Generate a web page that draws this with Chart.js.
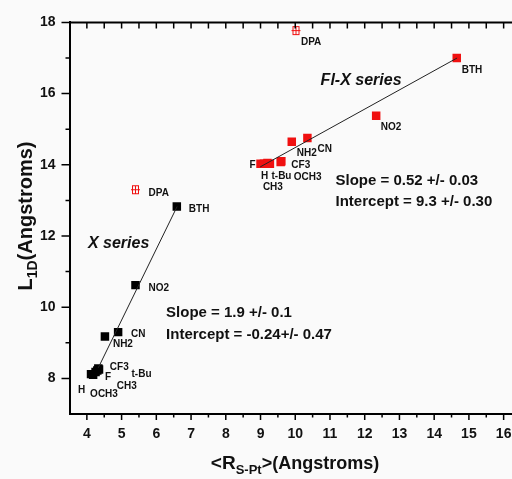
<!DOCTYPE html>
<html>
<head>
<meta charset="utf-8">
<script src="https://cdn.jsdelivr.net/npm/chart.js@4.4.0/dist/chart.umd.min.js"></script>
<style>
  html, body { margin: 0; padding: 0; background: #fafafa; overflow: hidden; }
  #wrap { width: 512px; height: 479px; overflow: hidden; }
  canvas { display: block; }
</style>
</head>
<body>
<div id="wrap"><canvas id="chart" width="540" height="479"></canvas></div>
<script>
// Substituent order shared by both series
const fixNames = ['H', 'F', 'CH3', 't-Bu', 'OCH3', 'CF3', 'NH2', 'CN', 'NO2', 'BTH'];
const xNames = ['H', 'F', 'CH3', 't-Bu', 'OCH3', 'CF3', 'NH2', 'CN', 'NO2', 'BTH'];

// Fl-X series: <R S-Pt> and L1D (Angstroms)
const fixR = [9.1, 9.0, 9.27, 9.2, 9.58, 9.6, 9.9, 10.35, 12.33, 14.65];
const fixL = [14.03, 14.03, 14.03, 14.05, 14.08, 14.1, 14.65, 14.75, 15.38, 17.0];

// X series
const xR = [4.12, 4.25, 4.3, 4.35, 4.18, 4.33, 4.52, 4.9, 5.4, 6.59];
const xL = [8.12, 8.18, 8.22, 8.25, 8.1, 8.28, 9.18, 9.3, 10.62, 12.83];

// DPA points, left out of both fits
const dpaNames = ['DPA', 'DPA'];
const dpaR = [10.02, 5.4];
const dpaL = [17.77, 13.3];

// fitted lines (end points)
const fixFitR = [8.99, 14.66];
const fixFitL = [13.94, 17.0];
const xFitR = [4.33, 6.6];
const xFitL = [8.3, 12.83];

const xTicks = [4, 5, 6, 7, 8, 9, 10, 11, 12, 13, 14, 15, 16];
const yTicks = [8, 10, 12, 14, 16, 18];

// label placement next to each marker, pixels [dx, dy]
const fixLabelOffsets = [[-3, 13], [-11, 2], [-7, 24], [4, 13.5], [13, 15], [10, 4], [5, 12], [10, 11], [4.5, 12], [5, 12]];
const xLabelOffsets = [[-13, 16], [9.5, 5], [19.5, 16], [32.5, 5], [-3, 19.5], [11.5, -1], [8, 8], [13, 2], [13, 3], [12, 3]];
const dpaLabelOffsets = [[5, 11.5], [13, 3.5]];

const notes = [
  { text: 'Fl-X series', x: 10.73, y: 16.36, font: 'italic bold 16px "Liberation Sans"' },
  { text: 'X series', x: 4.03, y: 11.8, font: 'italic bold 16px "Liberation Sans"' },
  { text: 'Slope = 0.52 +/- 0.03', x: 11.16, y: 13.56, font: 'bold 15px "Liberation Sans"' },
  { text: 'Intercept = 9.3 +/- 0.30', x: 11.16, y: 12.97, font: 'bold 15px "Liberation Sans"' },
  { text: 'Slope = 1.9 +/- 0.1', x: 6.28, y: 9.83, font: 'bold 15px "Liberation Sans"' },
  { text: 'Intercept = -0.24+/- 0.47', x: 6.28, y: 9.22, font: 'bold 15px "Liberation Sans"' }
];

const RED = '#f01010';
const FONT = '"Liberation Sans", Arial, sans-serif';

function pts(xs, ys) {
  return xs.map((v, i) => ({ x: v, y: ys[i] }));
}

// open red square with a cross, used for the DPA points
function dpaGlyph() {
  const c = document.createElement('canvas');
  c.width = 11; c.height = 11;
  const g = c.getContext('2d');
  g.strokeStyle = RED;
  g.lineWidth = 1;
  g.strokeRect(2.5, 1.5, 6, 8);
  g.beginPath();
  g.moveTo(1, 5.5); g.lineTo(10, 5.5);
  g.moveTo(5.5, 1.5); g.lineTo(5.5, 9.5);
  g.stroke();
  return c;
}

const framePlugin = {
  id: 'frame',
  beforeDraw(chart) {
    const ctx = chart.ctx;
    ctx.save();
    ctx.fillStyle = '#fafafa';
    ctx.fillRect(0, 0, chart.width, chart.height);
    ctx.restore();
  },
  afterDraw(chart) {
    const { ctx, chartArea: a, scales: { x, y } } = chart;
    ctx.save();
    ctx.strokeStyle = '#000';
    ctx.lineWidth = 2;
    ctx.beginPath();
    ctx.moveTo(a.left, a.top);
    ctx.lineTo(a.right, a.top);
    ctx.lineTo(a.right, a.bottom);
    ctx.stroke();

    ctx.lineWidth = 1.5;
    ctx.beginPath();
    for (let v = x.min + 0.5; v < x.max; v += 0.5) {
      const px = x.getPixelForValue(v);
      const major = Math.abs(v - Math.round(v)) < 1e-6;
      ctx.moveTo(px, a.bottom);
      ctx.lineTo(px, a.bottom + (major ? 6 : 3.5));
      ctx.moveTo(px, a.top);
      ctx.lineTo(px, a.top + 6);
    }
    for (let v = y.min + 1; v <= y.max; v += 1) {
      const py = y.getPixelForValue(v);
      const major = v % 2 === 0;
      ctx.moveTo(a.left, py);
      ctx.lineTo(a.left - (major ? 8 : 4), py);
    }
    ctx.stroke();
    ctx.restore();
  }
};

const labelPlugin = {
  id: 'pointLabels',
  afterDatasetsDraw(chart) {
    const ctx = chart.ctx;
    ctx.save();
    ctx.fillStyle = '#111';
    ctx.font = 'bold 10px ' + FONT;
    ctx.textAlign = 'left';
    ctx.textBaseline = 'middle';
    chart.data.datasets.forEach((ds, di) => {
      if (!ds.names) return;
      chart.getDatasetMeta(di).data.forEach((el, i) => {
        const [dx, dy] = ds.offsets[i];
        ctx.fillText(ds.names[i], el.x + dx, el.y + dy);
      });
    });

    const { x, y } = chart.scales;
    notes.forEach(n => {
      ctx.font = n.font;
      ctx.fillText(n.text, x.getPixelForValue(n.x), y.getPixelForValue(n.y));
    });
    ctx.restore();
  }
};

// axis titles with subscripts
function drawParts(ctx, parts, cx, base) {
  let w = 0;
  parts.forEach(p => { ctx.font = p.font; w += ctx.measureText(p.t).width; });
  let px = cx - w / 2;
  parts.forEach(p => {
    ctx.font = p.font;
    ctx.fillText(p.t, px, base + (p.dy || 0));
    px += ctx.measureText(p.t).width;
  });
}

const titlePlugin = {
  id: 'axisTitles',
  afterDraw(chart) {
    const ctx = chart.ctx;
    ctx.save();
    ctx.fillStyle = '#111';
    ctx.textAlign = 'left';
    ctx.textBaseline = 'alphabetic';
    drawParts(ctx, [
      { t: '<R', font: 'bold 19px ' + FONT },
      { t: 'S-Pt', font: 'bold 13px ' + FONT, dy: 5 },
      { t: '>(Angstroms)', font: 'bold 18px ' + FONT }
    ], 295, 469);

    ctx.translate(32, 216);
    ctx.rotate(-Math.PI / 2);
    drawParts(ctx, [
      { t: 'L', font: 'bold 20px ' + FONT },
      { t: '1D', font: 'bold 14px ' + FONT, dy: 5 },
      { t: '(Angstroms)', font: 'bold 20px ' + FONT }
    ], 0, 0);
    ctx.restore();
  }
};

new Chart(document.getElementById('chart').getContext('2d'), {
  type: 'scatter',
  data: {
    datasets: [
      {
        label: 'Fl-X fit',
        data: pts(fixFitR, fixFitL),
        showLine: true,
        borderColor: '#222',
        borderWidth: 1,
        pointRadius: 0
      },
      {
        label: 'X fit',
        data: pts(xFitR, xFitL),
        showLine: true,
        borderColor: '#222',
        borderWidth: 1,
        pointRadius: 0
      },
      {
        label: 'Fl-X series',
        data: pts(fixR, fixL),
        names: fixNames,
        offsets: fixLabelOffsets,
        pointStyle: 'rect',
        pointRadius: 6,
        backgroundColor: RED,
        borderColor: RED,
        borderWidth: 0
      },
      {
        label: 'X series',
        data: pts(xR, xL),
        names: xNames,
        offsets: xLabelOffsets,
        pointStyle: 'rect',
        pointRadius: 6,
        backgroundColor: '#000',
        borderColor: '#000',
        borderWidth: 0
      },
      {
        label: 'DPA',
        data: pts(dpaR, dpaL),
        names: dpaNames,
        offsets: dpaLabelOffsets,
        pointStyle: dpaGlyph(),
        pointRadius: 5
      }
    ]
  },
  options: {
    responsive: false,
    animation: false,
    devicePixelRatio: 1,
    layout: { padding: { top: 18, right: 19, left: 0, bottom: 0 } },
    plugins: {
      legend: { display: false },
      tooltip: { enabled: false }
    },
    scales: {
      x: {
        type: 'linear',
        min: 3.5,
        max: 16.5,
        afterBuildTicks: s => { s.ticks = xTicks.map(v => ({ value: v })); },
        afterFit: s => { s.height = 65; },
        grid: { display: false, drawTicks: false },
        border: { display: true, color: '#000', width: 2 },
        ticks: { color: '#111', padding: 12, font: { family: FONT, size: 14, weight: 'bold' } }
      },
      y: {
        type: 'linear',
        min: 7,
        max: 18,
        afterBuildTicks: s => { s.ticks = yTicks.map(v => ({ value: v })); },
        afterFit: s => { s.width = 69.5; },
        grid: { display: false, drawTicks: false },
        border: { display: true, color: '#000', width: 2 },
        ticks: { color: '#111', padding: 14, font: { family: FONT, size: 14, weight: 'bold' } }
      }
    }
  },
  plugins: [framePlugin, labelPlugin, titlePlugin]
});
</script>
</body>
</html>
